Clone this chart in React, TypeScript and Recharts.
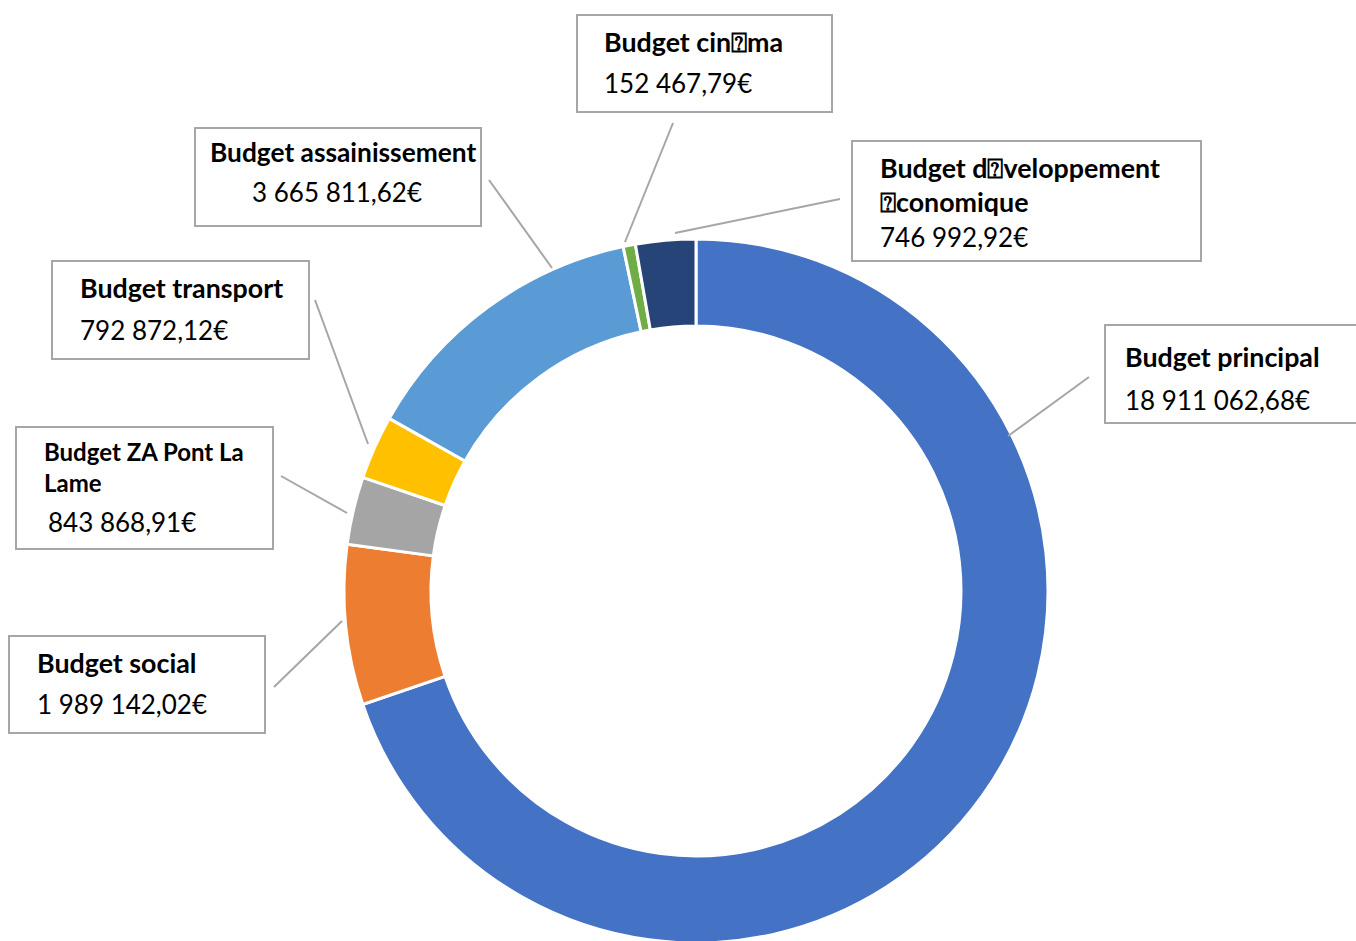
import React from 'react';
import { PieChart, Pie, Cell } from 'recharts';

// ---- data ----
const categories = [
  'Budget principal',
  'Budget social',
  'Budget ZA Pont La Lame',
  'Budget transport',
  'Budget assainissement',
  'Budget cin\u2370ma',
  'Budget d\u2370veloppement \u2370conomique',
];
const values = [18911062.68, 1989142.02, 843868.91, 792872.12, 3665811.62, 152467.79, 746992.92];
const valueLabels = [
  '18 911 062,68€',
  '1 989 142,02€',
  '843 868,91€',
  '792 872,12€',
  '3 665 811,62€',
  '152 467,79€',
  '746 992,92€',
];
// title lines as wrapped in the picture
const titleLines = [
  ['Budget principal'],
  ['Budget social'],
  ['Budget ZA Pont La', 'Lame'],
  ['Budget transport'],
  ['Budget assainissement'],
  ['Budget cin\u2370ma'],
  ['Budget d\u2370veloppement', '\u2370conomique'],
];

// ---- styles ----
const colors = ['#4472C4', '#ED7D31', '#A5A5A5', '#FFC000', '#5B9BD5', '#70AD47', '#264478'];
const FONT = 'Lato, "Open Sans", sans-serif';

// ---- label layout (boxes, text baselines, leader lines) ----
type LabelLayout = {
  box: [number, number, number, number];
  tx: number;
  vx: number;
  titleY: number[];
  valueY: number;
  titleSize: number;
  line: [number, number, number, number];
};
const labelLayout: LabelLayout[] = [
  { box: [1105, 325, 260, 98], tx: 1125, vx: 1125, titleY: [367], valueY: 410, titleSize: 26.8, line: [1089, 377, 1008, 436] },
  { box: [9, 636, 256, 97], tx: 37, vx: 37, titleY: [673], valueY: 714, titleSize: 26.8, line: [274, 687, 342, 621] },
  { box: [16, 427, 257, 122], tx: 44, vx: 48, titleY: [461, 492], valueY: 532, titleSize: 24, line: [281, 476, 347, 513] },
  { box: [52, 261, 257, 98], tx: 80, vx: 80, titleY: [298], valueY: 340, titleSize: 26.8, line: [315, 300, 368, 444] },
  { box: [195, 128, 286, 98], tx: 210, vx: 252, titleY: [162], valueY: 202, titleSize: 26.3, line: [489, 180, 552, 268] },
  { box: [577, 15, 255, 97], tx: 604, vx: 604, titleY: [52], valueY: 93, titleSize: 26.8, line: [673, 123, 625, 242] },
  { box: [852, 141, 349, 120], tx: 880, vx: 880, titleY: [178, 212], valueY: 247, titleSize: 26.8, line: [840, 199, 675, 233] },
];

const data = categories.map((name, i) => ({ name, value: values[i] }));

const renderLabel = (props: any) => {
  const i = props.index as number;
  const l = labelLayout[i];
  if (!l) return null;
  const [bx, by, bw, bh] = l.box;
  const [x1, y1, x2, y2] = l.line;
  return (
    <g key={`lbl-${i}`}>
      <line x1={x1} y1={y1} x2={x2} y2={y2} stroke="#A6A6A6" strokeWidth={2} />
      <rect x={bx} y={by} width={bw} height={bh} fill="#FFFFFF" stroke="#A6A6A6" strokeWidth={2} />
      {titleLines[i].map((t, k) => (
        <text
          key={k}
          x={l.tx}
          y={l.titleY[k]}
          fontFamily={FONT}
          fontWeight={700}
          fontSize={l.titleSize}
          fill="#000"
        >
          {t}
        </text>
      ))}
      <text x={l.vx} y={l.valueY} fontFamily={FONT} fontSize={26} fill="#000">
        {valueLabels[i]}
      </text>
    </g>
  );
};

export default function App() {
  return (
    <div style={{ position: 'absolute', left: 0, top: 0, width: 1356, height: 941, background: '#fff', overflow: 'hidden' }}>
      <PieChart width={1356} height={941} margin={{ top: 0, right: 0, bottom: 0, left: 0 }}>
        <Pie
          data={data}
          dataKey="value"
          nameKey="name"
          cx={696}
          cy={591}
          innerRadius={265}
          outerRadius={352}
          startAngle={90}
          endAngle={-270}
          stroke="#FFFFFF"
          strokeWidth={3}
          isAnimationActive={false}
          label={renderLabel}
          labelLine={false}
        >
          {data.map((d, i) => (
            <Cell key={d.name} fill={colors[i]} />
          ))}
        </Pie>
      </PieChart>
    </div>
  );
}
